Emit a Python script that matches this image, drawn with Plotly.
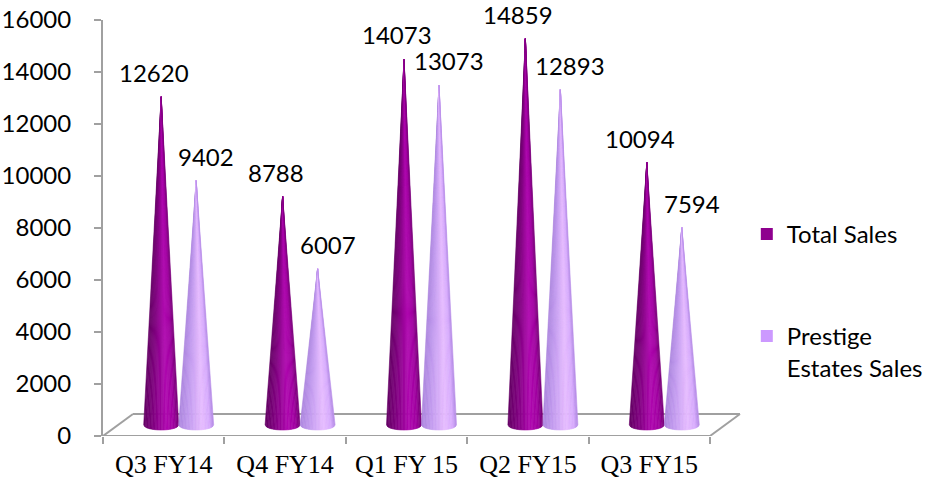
import plotly.graph_objects as go

# ---- data ----
categories = ["Q3 FY14", "Q4 FY14", "Q1 FY 15", "Q2 FY15", "Q3 FY15"]
total_sales = [12620, 8788, 14073, 14859, 10094]
prestige_sales = [9402, 6007, 13073, 12893, 7594]
series_names = ["Total Sales", "Prestige<br>Estates Sales"]
y_ticks = [0, 2000, 4000, 6000, 8000, 10000, 12000, 14000, 16000]
y_tick_labels = [str(v) for v in y_ticks]

# ---- geometry / style ----
W, H = 929, 480
ML, MR, MT, MB = 103, 177, 20, 44
px_per_unit = 607 / 5.0
x_lo = -0.5
x_hi = x_lo + (W - ML - MR) / px_per_unit
y_lo, y_hi = 0, 16000
px_per_val = (H - MT - MB) / (y_hi - y_lo)

depth_dx = 30 / px_per_unit          # full floor depth shift in x units
depth_dy = 22 / px_per_val           # full floor depth shift in y units
mid_dx, mid_dy = depth_dx / 2, depth_dy / 2
cone_off = 17.5 / px_per_unit        # cone centre offset from category centre
cone_hw = 17.5 / px_per_unit         # cone half width
ell_h = 5 / px_per_val               # base ellipse half height

# shading stops (u in [-1,1] -> colour)
total_stops = [(-1.0, (100, 0, 100)), (-0.4, (130, 0, 130)), (0.3, (176, 8, 176)),
               (0.75, (160, 0, 160)), (1.0, (118, 0, 118))]
prest_stops = [(-1.0, (172, 134, 222)), (-0.4, (196, 156, 240)), (0.35, (230, 188, 255)),
               (0.8, (214, 170, 252)), (1.0, (178, 138, 228))]


def shade(stops, u):
    for (u0, c0), (u1, c1) in zip(stops[:-1], stops[1:]):
        if u0 <= u <= u1:
            t = (u - u0) / (u1 - u0)
            c = [round(a + (b - a) * t) for a, b in zip(c0, c1)]
            return "rgb(%d,%d,%d)" % tuple(c)
    return "rgb(%d,%d,%d)" % stops[-1][1]


fig = go.Figure()

N = 24
for s_idx, (vals, stops, off) in enumerate([(total_sales, total_stops, -cone_off),
                                            (prestige_sales, prest_stops, cone_off)]):
    for k in range(N):
        u0 = -1 + 2 * k / N
        u1 = -1 + 2 * (k + 1) / N
        col = shade(stops, (u0 + u1) / 2)
        xs, ys = [], []
        for i, v in enumerate(vals):
            cx = i + off + mid_dx
            apex_y = v + mid_dy
            xa = cx + u0 * cone_hw
            xb = cx + u1 * cone_hw
            ya = mid_dy - ell_h * (max(0.0, 1 - u0 ** 2)) ** 0.5
            yb = mid_dy - ell_h * (max(0.0, 1 - u1 ** 2)) ** 0.5
            xs += [cx, xa, xb, cx, None]
            ys += [apex_y, ya, yb, apex_y, None]
        fig.add_trace(go.Scatter(x=xs, y=ys, mode="lines", fill="toself",
                                 fillcolor=col, line=dict(color=col, width=0.6),
                                 hoverinfo="skip", showlegend=False))

# legend entries
legend_cols = ["#8e008e", "#cc99ff"]
for g, (name, col) in enumerate(zip(series_names, legend_cols)):
    fig.add_trace(go.Scatter(x=[None], y=[None], mode="markers", name=name,
                             legendgroup="g%d" % g,
                             marker=dict(symbol="square", size=14, color=col)))

# data labels
ann = []
for vals, off, xs in [(total_sales, -cone_off, -7), (prestige_sales, cone_off, 10)]:
    for i, v in enumerate(vals):
        ann.append(dict(x=i + off + mid_dx, y=v + mid_dy, text=str(v), showarrow=False,
                        xref="x", yref="y", yanchor="bottom", xshift=xs, yshift=8,
                        font=dict(family="Lato", size=24, color="#000000")))

# floor (3D base)
gray = "#a0a0a0"
floor_pts = [(x_lo, 0), (x_lo + 5, 0), (x_lo + 5 + depth_dx, depth_dy),
             (x_lo + depth_dx, depth_dy), (x_lo, 0)]
shapes = []
for (xa, ya), (xb, yb) in zip(floor_pts[:-1], floor_pts[1:]):
    shapes.append(dict(type="line", xref="x", yref="y", x0=xa, y0=ya, x1=xb, y1=yb,
                       line=dict(color=gray, width=2), layer="below"))

fig.update_layout(
    width=W, height=H,
    margin=dict(l=ML, r=MR, t=MT, b=MB, autoexpand=False),
    paper_bgcolor="white", plot_bgcolor="white",
    showlegend=True,
    legend=dict(x=0.992, xanchor="left", y=0.539, yanchor="top",
                font=dict(family="Lato", size=24, color="#000000"),
                tracegroupgap=68, valign="top", bgcolor="rgba(0,0,0,0)",
                itemsizing="constant"),
    annotations=ann,
    shapes=shapes,
)
fig.update_xaxes(range=[x_lo, x_hi], showgrid=False, zeroline=False, showline=False,
                 automargin=False,
                 tickmode="array", tickvals=list(range(len(categories))),
                 ticktext=categories, ticks="", ticklabelstandoff=10,
                 tickfont=dict(family="Liberation Serif", size=26, color="#000000"),
                 minor=dict(tickmode="array",
                            tickvals=[x_lo + i for i in range(len(categories) + 1)],
                            ticks="outside", ticklen=7, tickcolor=gray, tickwidth=2))
fig.update_yaxes(range=[y_lo, y_hi], showgrid=False, zeroline=False, showline=True,
                 automargin=False,
                 linecolor=gray, linewidth=2, tickmode="array", tickvals=y_ticks,
                 ticktext=y_tick_labels,
                 ticks="outside", ticklen=7, tickcolor=gray, tickwidth=2,
                 ticklabelstandoff=18,
                 tickfont=dict(family="Lato", size=24, color="#000000"))

fig.write_html("out.html",
               config={"displayModeBar": False},
               post_script="document.body.style.margin='0px';"
                           "document.body.style.padding='0px';"
                           "document.body.style.overflow='hidden';")
